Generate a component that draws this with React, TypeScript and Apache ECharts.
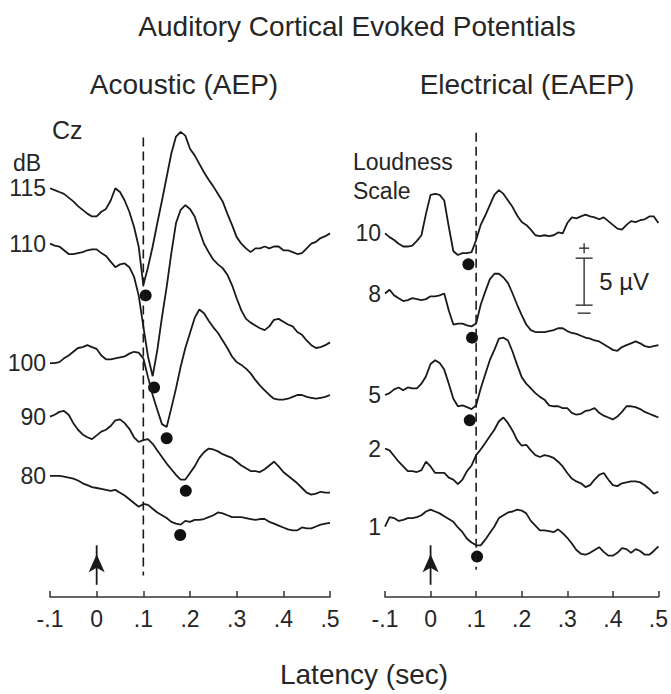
import React, { useEffect, useRef } from 'react';
import * as echarts from 'echarts';

const FONT = 'Liberation Sans, Arial, Helvetica, sans-serif';
const INK = '#1a1a1a';
const TEXT = '#262626';

// sampling times (s), -0.10 .. 0.50 every 10 ms
const times: number[] = Array.from({ length: 61 }, (_, i) => Math.round((-0.1 + i * 0.01) * 100) / 100);

// Acoustic (AEP) traces, µV on a stacked scale
const aepLabels = ['115', '110', '100', '90', '80'];
const aep115 = [43.5,43.3,43.1,42.9,42.5,42.1,41.6,41.2,40.8,40.5,40.5, 41.0,41.3,42.2,43.5,43.1,42.2,41.0,39.4,37.3,33.2, 35.1,37.3,39.8,42.2,44.7,47.2,49.0,49.5,49.1,47.7, 47.0,46.1,45.2,44.4,43.7,42.9,42.1,40.8,39.6,38.3, 37.6,37.1,36.7,37.1,37.1,37.3,37.1,37.3,37.3,36.9, 36.9,36.7,36.5,36.6,37.1,37.6,37.8,38.2,38.4,38.7];
const aep110 = [37.6,37.4,37.3,36.9,36.5,36.5,36.6,36.7,36.9,37.0,37.0, 36.6,36.3,35.7,35.1,35.4,35.5,35.1,34.1,32.1,28.8, 25.6,23.5,26.3,29.8,33.0,36.6,39.8,41.2,41.7,41.3, 40.5,39.0,37.6,36.7,35.9,35.4,35.0,34.3,33.2,31.8, 30.5,29.6,29.2,28.9,28.6,28.4,28.8,29.5,29.6,29.3, 29.0,28.8,28.2,27.9,27.3,26.8,26.5,26.6,26.8,27.1];
const aep100 = [24.9,24.9,25.0,25.4,25.7,26.1,26.5,26.6,26.8,26.6,26.4, 25.7,25.3,25.3,25.4,25.5,25.6,25.9,26.1,26.0,25.4, 23.4,21.5,19.9,18.4,18.1,20.1,22.2,24.5,26.5,28.1, 29.7,30.6,30.2,29.4,28.7,28.1,27.3,26.5,25.6,25.0, 24.7,24.3,23.8,23.1,22.5,22.0,21.5,21.1,21.0,21.0, 21.1,21.3,21.5,21.5,21.3,21.2,21.1,21.2,21.3,21.5];
const aep90 = [19.2,19.4,19.7,19.8,19.4,18.5,17.8,17.3,17.0,16.8,17.2, 17.6,17.8,18.2,18.8,18.9,18.5,17.9,17.0,16.5,16.7, 16.8,16.3,15.6,14.9,14.2,13.6,13.0,12.5,12.5,13.2, 13.9,14.8,15.4,15.8,15.7,15.5,15.2,15.0,14.8,14.4, 14.0,13.7,13.4,13.4,13.3,13.6,14.0,14.4,13.9,13.3, 12.9,12.5,12.1,11.6,11.1,10.9,11.0,11.2,11.1,11.1];
const aep80 = [12.9,12.9,12.9,12.8,12.7,12.6,12.4,12.1,11.9,11.7,11.6, 11.5,11.4,11.3,11.4,11.1,10.8,10.4,10.0,9.6,9.9, 9.8,9.4,9.0,8.7,8.4,8.0,7.8,7.7,8.1,8.0, 8.2,8.2,8.3,8.5,8.7,9.0,8.9,8.7,8.5,8.5, 8.5,8.4,8.3,8.2,8.3,8.3,8.0,7.8,7.6,7.4, 7.2,7.1,7.1,7.4,7.3,7.3,7.5,7.7,7.8,7.9];
const aepTraces = [aep115, aep110, aep100, aep90, aep80];
const aepN1: [number, number][] = [[0.105, 32.1], [0.123, 22.3], [0.150, 16.9], [0.191, 11.3], [0.179, 6.6]];

// Electrical (EAEP) traces
const eaepLabels = ['10', '8', '5', '2', '1'];
const eaep10 = [38.7,38.3,38.0,37.6,37.3,37.3,37.4,37.9,38.5,40.8,42.8, 42.9,42.8,42.2,39.4,36.8,36.4,36.6,36.6,36.7,38.0, 39.6,40.6,41.7,42.8,43.3,42.9,42.2,41.5,40.6,39.9, 39.6,39.1,38.5,38.4,38.5,38.4,38.5,38.8,38.7,39.8, 40.4,40.3,40.5,40.7,40.5,40.4,40.2,40.4,40.0,39.6, 39.2,39.1,39.6,40.0,39.9,40.1,40.2,40.5,40.5,39.8];
const eaep8 = [32.3,32.7,32.1,31.8,31.5,31.6,31.8,31.7,31.6,31.7,32.0, 32.0,32.1,32.3,30.5,29.0,29.1,29.1,28.9,28.8,29.1, 31.1,32.5,33.8,34.4,34.4,34.0,33.4,32.3,31.1,30.0, 29.0,28.4,28.2,28.2,28.2,28.3,28.4,28.6,28.6,28.3, 28.1,28.0,27.8,27.6,27.5,27.3,27.2,26.9,26.6,26.3, 26.2,26.6,26.8,27.0,27.2,27.0,26.7,26.6,26.7,26.8];
const eaep5 = [21.5,21.7,22.1,22.3,22.0,22.3,22.2,22.2,22.7,23.5,24.8, 25.2,24.9,24.2,22.7,21.1,20.3,20.4,20.2,20.0,20.4, 22.2,23.7,25.2,26.3,27.5,27.6,27.3,26.1,24.7,23.4, 22.7,22.2,21.7,21.3,21.0,20.4,20.3,20.3,20.1,20.1, 19.6,19.4,19.5,19.8,19.9,20.1,19.6,19.3,19.1,18.9, 19.2,19.7,20.3,20.3,20.2,20.0,19.7,19.5,19.3,19.1];
const eaep2 = [15.8,15.6,15.0,14.4,13.9,13.4,13.4,13.3,13.5,14.4,13.9, 13.2,13.2,13.2,12.7,12.5,12.0,12.5,13.4,14.0,15.1, 15.7,16.4,17.1,17.8,18.7,19.1,18.5,17.7,16.7,16.1, 16.2,15.6,15.1,14.9,15.1,15.0,14.8,14.4,13.9,13.2, 12.6,12.3,12.1,11.7,11.9,12.5,13.0,13.2,12.5,11.9, 11.8,12.1,12.2,12.3,12.3,12.2,11.9,11.5,11.0,11.2];
const eaep1 = [7.5,8.5,8.4,8.1,8.2,8.4,8.4,8.5,8.7,9.1,9.3, 9.1,8.9,8.6,8.3,8.0,7.4,6.9,6.2,5.8,5.5, 5.5,6.1,6.8,7.5,8.4,8.7,9.0,9.1,9.3,9.2, 8.9,8.1,7.6,7.1,7.1,7.0,6.9,7.2,6.8,6.3, 5.7,5.0,4.6,4.5,4.7,5.0,5.3,4.8,4.4,4.4, 4.7,5.2,5.1,4.7,5.1,4.9,4.5,4.5,4.9,5.4];
const eaepTraces = [eaep10, eaep8, eaep5, eaep2, eaep1];
const eaepN1: [number, number][] = [[0.083, 35.4], [0.091, 27.6], [0.086, 18.8], [0.102, 4.3]];

// reference markers
const refLatency = 0.1;
const dashSpan = [[48.9, 2.3], [49.4, 2.9]];
const stimulusTime = 0;
const arrowSpan = [1.3, 5.5];
const scaleBar = { t: 0.337, from: 31.06, amplitude: 5 };

const fmtTick = (v: number) => {
  const n = Math.round(v * 10);
  if (n === 0) return '0';
  return (n < 0 ? '-' : '') + '.' + Math.abs(n);
};

function txt(text: string, x: number, y: number, size: number, align = 'left') {
  return {
    type: 'text', x, y, silent: true,
    style: { text, fontSize: size, fontFamily: FONT, fill: TEXT, align, verticalAlign: 'middle', textAlign: align, textVerticalAlign: 'middle' },
  };
}

export default function App() {
  const ref = useRef<HTMLDivElement>(null);
  useEffect(() => {
    document.body.style.margin = '0';
    if (!ref.current) return;
    const chart = echarts.init(ref.current, undefined, { renderer: 'svg' });

    const xAxisBase = (gridIndex: number) => ({
      gridIndex, type: 'value', min: -0.1, max: 0.5, interval: 0.1,
      axisLine: { show: true, onZero: false, lineStyle: { color: '#333', width: 1.5 } },
      axisTick: { show: true, inside: true, length: 6, lineStyle: { color: '#333', width: 1.5 } },
      axisLabel: { formatter: fmtTick, fontSize: 23, fontFamily: FONT, color: TEXT, margin: 10 },
      splitLine: { show: false },
    });

    const series: any[] = [];
    const panels = [
      { idx: 0, labels: aepLabels, traces: aepTraces, n1: aepN1 },
      { idx: 1, labels: eaepLabels, traces: eaepTraces, n1: eaepN1 },
    ];
    panels.forEach((p) => {
      p.traces.forEach((vals, k) => {
        series.push({
          type: 'line', name: p.labels[k], xAxisIndex: p.idx, yAxisIndex: p.idx,
          data: times.map((t, i) => [t, vals[i]]),
          symbol: 'none', silent: true,
          lineStyle: { color: INK, width: 1.8 },
        });
      });
      // trace labels at the start of each trace
      series.push({
        type: 'custom', xAxisIndex: p.idx, yAxisIndex: p.idx, silent: true,
        data: p.traces.map((vals, k) => [times[0], vals[0], k]),
        encode: { x: 0, y: 1 },
        renderItem: (params: any, api: any) => {
          const pt = api.coord([api.value(0), api.value(1)]);
          const label = p.labels[api.value(2)];
          return {
            type: 'text', x: pt[0] - 4, y: pt[1],
            style: { text: label, fontSize: 23, fontFamily: FONT, fill: TEXT, align: 'right', verticalAlign: 'middle', textAlign: 'right', textVerticalAlign: 'middle' },
          };
        },
      });
      series.push({
        type: 'scatter', xAxisIndex: p.idx, yAxisIndex: p.idx, silent: true,
        data: p.n1, symbol: 'circle', symbolSize: 12, itemStyle: { color: '#111', opacity: 1 },
      });
      series.push({
        type: 'line', xAxisIndex: p.idx, yAxisIndex: p.idx, silent: true, symbol: 'none',
        data: [[refLatency, dashSpan[p.idx][0]], [refLatency, dashSpan[p.idx][1]]],
        lineStyle: { color: INK, width: 1.6, type: [9, 5] },
      });
      series.push({
        type: 'line', xAxisIndex: p.idx, yAxisIndex: p.idx, silent: true, showSymbol: true,
        data: [
          { value: [stimulusTime, arrowSpan[0]], symbol: 'none' },
          { value: [stimulusTime, arrowSpan[1]], symbol: 'arrow', symbolSize: [12, 18], symbolOffset: [0, '50%'] },
        ],
        itemStyle: { color: INK, opacity: 1 },
        lineStyle: { color: INK, width: 1.8 },
      });
    });

    series.push({
      type: 'custom', xAxisIndex: 1, yAxisIndex: 1, silent: true,
      data: [[scaleBar.t, scaleBar.from, scaleBar.from + scaleBar.amplitude]],
      encode: { x: 0, y: [1, 2] },
      renderItem: (params: any, api: any) => {
        const top = api.coord([api.value(0), api.value(2)]);
        const bot = api.coord([api.value(0), api.value(1)]);
        const x = top[0];
        const st = { stroke: '#333', lineWidth: 1.4 };
        return {
          type: 'group',
          children: [
            { type: 'line', shape: { x1: x, y1: top[1], x2: x, y2: bot[1] }, style: st },
            { type: 'line', shape: { x1: x - 8.5, y1: top[1], x2: x + 8.5, y2: top[1] }, style: st },
            { type: 'line', shape: { x1: x - 8.5, y1: bot[1], x2: x + 8.5, y2: bot[1] }, style: st },
            { type: 'line', shape: { x1: x - 5, y1: top[1] - 10, x2: x + 5, y2: top[1] - 10 }, style: st },
            { type: 'line', shape: { x1: x, y1: top[1] - 15, x2: x, y2: top[1] - 5 }, style: st },
            { type: 'line', shape: { x1: x - 6.5, y1: bot[1] + 8, x2: x + 6.5, y2: bot[1] + 8 }, style: st },
            {
              type: 'text', x: x + 15, y: (top[1] + bot[1]) / 2,
              style: { text: '5 µV', fontSize: 24, fontFamily: FONT, fill: TEXT, align: 'left', verticalAlign: 'middle', textAlign: 'left', textVerticalAlign: 'middle' },
            },
          ],
        };
      },
    });

    chart.setOption({
      animation: false,
      backgroundColor: '#ffffff',
      textStyle: { fontFamily: FONT },
      grid: [
        { left: 50, width: 280, top: 99, height: 498 },
        { left: 385, width: 279, top: 99, height: 498 },
      ],
      xAxis: [xAxisBase(0), xAxisBase(1)],
      yAxis: [
        { gridIndex: 0, type: 'value', min: 0, max: 53, show: false },
        { gridIndex: 1, type: 'value', min: 0, max: 53, show: false },
      ],
      graphic: [
        txt('Auditory Cortical Evoked Potentials', 357, 26, 28, 'center'),
        txt('Acoustic (AEP)', 184, 84, 28, 'center'),
        txt('Electrical (EAEP)', 527, 84, 28, 'center'),
        txt('Latency (sec)', 364, 674, 28, 'center'),
        txt('Cz', 52, 130, 25),
        txt('dB', 13, 163, 23),
        txt('Loudness', 353, 162, 23),
        txt('Scale', 353, 191, 23),
      ],
      series,
    });
    return () => chart.dispose();
  }, []);
  return <div ref={ref} style={{ width: 671, height: 694 }} />;
}
